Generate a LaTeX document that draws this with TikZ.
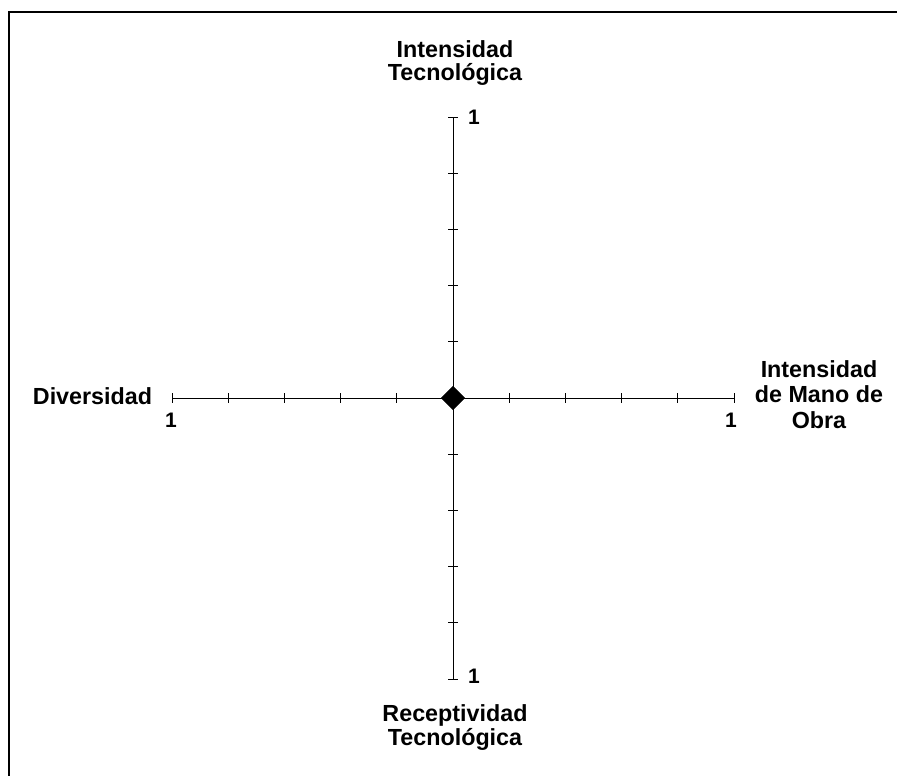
\documentclass[tikz,border=0pt]{standalone}
\usepackage{fontspec}
\setmainfont{Liberation Sans}
\usetikzlibrary{shapes.geometric}
\tikzset{
  axislabel/.style={font=\bfseries\fontsize{23.3}{23.5}\selectfont, align=center, inner sep=0pt},
  unitlabel/.style={font=\bfseries\fontsize{21}{23}\selectfont, inner sep=0pt},
  tickmark/.style={line width=1pt},
}
\begin{document}
\begin{tikzpicture}[x=1pt,y=-1pt]
   \useasboundingbox (0,0) rectangle (897,776);
   % frame (only top and left edges are visible)
   \draw[line width=2pt] (897,12) -- (9,12) -- (9,776);

   \node[diamond, fill=black, inner sep=0pt, minimum size=24pt] (origin) at (453,398) {};
   \coordinate (left) at (172,398);
   \coordinate (right) at (734,398);
   \coordinate (top) at (453,117);
   \coordinate (bottom) at (453,679);

   \draw[tickmark] (left) -- (right);
   \draw[tickmark] (top) -- (bottom);
   \foreach \k in {-5,...,5}{
     \draw[tickmark] ([shift={(56.2*\k,-5)}]origin.center) -- ++(0,10);
     \draw[tickmark] ([shift={(-5,56.2*\k)}]origin.center) -- ++(10,0);
   }
   \node[diamond, fill=black, inner sep=0pt, minimum size=24pt] at (origin) {};

   % base = baseline of the last line
   \node[axislabel, anchor=base] (tecno) at (455,81) {Intensidad\\Tecnológica};
   \node[axislabel, anchor=base] (recep) at (455,745) {Receptividad\\Tecnológica};
   \node[axislabel, anchor=base] (divers) at (92.5,404) {Diversidad};
   \node[axislabel, anchor=base, font=\bfseries\fontsize{23.3}{25.5}\selectfont] (mano) at (819,428) {Intensidad\\de Mano de\\Obra};

   \node[unitlabel, anchor=base] (utop) at (474,124) {1};
   \node[unitlabel, anchor=base] (ubottom) at (474,683) {1};
   \node[unitlabel, anchor=base] (uleft) at (171,427) {1};
   \node[unitlabel, anchor=base] (uright) at (731,427) {1};
\end{tikzpicture}
\end{document}
